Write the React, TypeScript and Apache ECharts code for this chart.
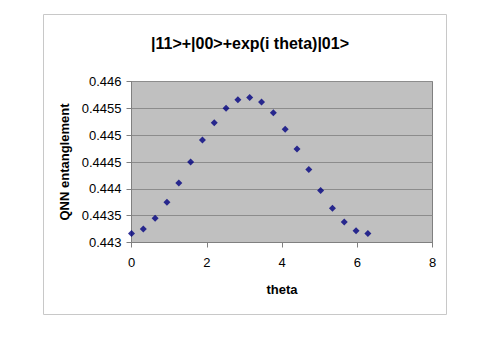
import React, { useEffect, useRef } from "react";
import * as echarts from "echarts";

const thetaValues = [
  0, 0.314, 0.628, 0.942, 1.257, 1.571, 1.885, 2.199, 2.513, 2.827, 3.142,
  3.456, 3.77, 4.084, 4.398, 4.712, 5.027, 5.341, 5.655, 5.969, 6.283,
];
const entanglementValues = [
  0.44317, 0.44325, 0.44345, 0.44375, 0.44411, 0.4445, 0.44491, 0.44523,
  0.4455, 0.44566, 0.4457, 0.44562, 0.44542, 0.44511, 0.44474, 0.44436,
  0.44397, 0.44364, 0.44338, 0.44322, 0.44317,
];
const titleText = "|11>+|00>+exp(i theta)|01>";
const xAxisName = "theta";
const yAxisName = "QNN entanglement";

export default function App() {
  const ref = useRef<HTMLDivElement>(null);
  useEffect(() => {
    if (!ref.current) return;
    const chart = echarts.init(ref.current, undefined, { renderer: "svg" });
    const font = "'Liberation Sans', Arial, sans-serif";
    chart.setOption({
      animation: false,
      backgroundColor: "#ffffff",
      textStyle: { fontFamily: font },
      title: {
        text: titleText,
        left: 245,
        top: 30,
        textAlign: "center",
        textStyle: { fontFamily: font, fontSize: 16, fontWeight: "bold", color: "#000" },
      },
      graphic: [
        {
          type: "rect",
          shape: { x: 43.5, y: 14.5, width: 403, height: 300 },
          style: { fill: "none", stroke: "#c8c8c8", lineWidth: 1 },
          z: -1,
        },
      ],
      grid: {
        left: 131.5,
        top: 81.5,
        width: 301,
        height: 161,
        show: true,
        backgroundColor: "#c0c0c0",
        borderColor: "#808080",
        borderWidth: 1,
      },
      xAxis: {
        type: "value",
        min: 0,
        max: 8,
        interval: 2,
        name: xAxisName,
        nameLocation: "middle",
        nameGap: 40,
        nameTextStyle: { fontFamily: font, fontSize: 13, fontWeight: "bold", color: "#000" },
        axisLine: { show: true, lineStyle: { color: "#808080" } },
        axisTick: { show: true, inside: false, length: 5, lineStyle: { color: "#808080" } },
        axisLabel: { fontFamily: font, fontSize: 13, color: "#000", margin: 13 },
        splitLine: { show: false },
      },
      yAxis: {
        type: "value",
        min: 0.443,
        max: 0.446,
        interval: 0.0005,
        name: yAxisName,
        nameLocation: "middle",
        nameGap: 57,
        nameTextStyle: { fontFamily: font, fontSize: 13, fontWeight: "bold", color: "#000" },
        axisLine: { show: true, lineStyle: { color: "#808080" } },
        axisTick: { show: true, inside: false, length: 5, lineStyle: { color: "#808080" } },
        axisLabel: {
          fontFamily: font,
          fontSize: 13,
          color: "#000",
          margin: 10,
          formatter: (v: number) => String(+v.toFixed(4)),
        },
        splitLine: { show: true, lineStyle: { color: "#8c8c8c", width: 1 } },
      },
      series: [
        {
          type: "scatter",
          data: thetaValues.map((t, i) => [t, entanglementValues[i]]),
          symbol: "diamond",
          symbolSize: 7,
          itemStyle: { color: "#000080" },
        },
      ],
    });
    return () => chart.dispose();
  }, []);
  return (
    <div
      ref={ref}
      style={{ position: "fixed", left: 0, top: 0, width: 483, height: 338 }}
    />
  );
}
